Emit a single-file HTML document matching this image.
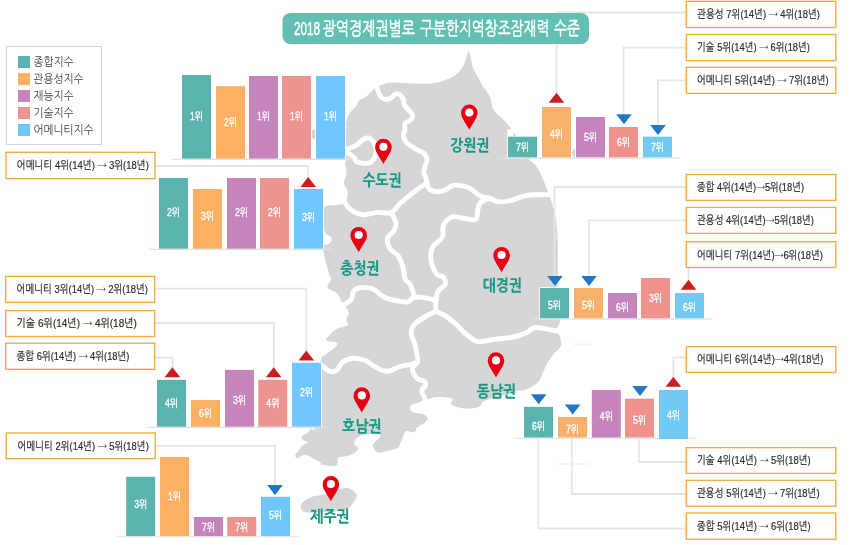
<!DOCTYPE html>
<html lang="ko"><head><meta charset="utf-8"><title>2018 광역경제권별로 구분한 지역창조잠재력 수준</title>
<style>
html,body{margin:0;padding:0;background:#fff;}
svg{display:block;font-family:"Liberation Sans", "NanumGothic", "Noto Sans CJK KR", sans-serif;}
.ar{font-family:"NanumGothic","Noto Sans CJK KR",sans-serif;}
</style></head><body>
<svg width="850" height="545" viewBox="0 0 850 545">
<rect width="850" height="545" fill="#fff"/>
<path d="M345.0,130.0 C348.2,129.0 345.4,125.8 346.0,123.0 C346.6,120.2 347.0,118.5 348.2,116.0 C349.4,113.5 350.2,112.4 351.8,110.5 C353.4,108.6 354.6,108.4 356.0,106.5 C357.4,104.6 356.9,102.9 358.8,101.0 C360.7,99.1 363.1,98.7 365.5,97.0 C367.9,95.3 368.6,94.2 370.6,92.4 C372.6,90.6 373.0,89.6 375.5,88.0 C378.0,86.4 379.9,85.6 383.0,84.5 C386.1,83.4 385.2,82.7 391.0,82.5 C396.8,82.3 404.0,83.3 412.0,83.5 C420.0,83.7 424.9,84.0 431.0,83.5 C437.1,83.0 437.7,82.6 442.5,81.0 C447.3,79.4 450.9,78.3 455.0,75.3 C459.1,72.3 460.8,69.9 463.2,66.0 C465.6,62.1 465.7,58.9 466.8,56.0 C467.9,53.1 467.9,51.1 468.7,51.5 C469.5,51.9 470.1,55.1 470.8,58.0 C471.5,60.9 471.5,63.0 472.4,66.0 C473.3,69.0 474.1,70.7 475.3,73.0 C476.5,75.3 476.8,75.0 478.2,77.6 C479.6,80.2 480.9,83.6 482.4,86.0 C483.9,88.4 483.9,86.9 485.5,89.5 C487.1,92.1 488.9,94.6 490.6,98.8 C492.3,103.0 491.4,106.4 494.0,110.6 C496.6,114.8 500.2,116.5 503.5,120.0 C506.8,123.5 507.3,123.8 510.6,128.2 C513.9,132.6 516.7,136.2 520.0,142.0 C523.3,147.8 523.7,152.1 527.0,157.0 C530.3,161.9 533.2,161.8 536.5,166.5 C539.8,171.2 541.2,175.4 543.5,180.6 C545.8,185.8 546.4,187.7 548.2,192.4 C550.0,197.1 550.7,198.5 552.3,204.0 C553.9,209.5 554.9,212.0 556.0,220.0 C557.1,228.0 557.4,235.4 557.8,244.0 C558.2,252.6 557.8,253.8 557.8,263.0 C557.8,272.2 557.8,281.6 557.8,290.0 C557.8,298.4 557.6,299.0 558.0,305.0 C558.4,311.0 560.2,315.2 560.0,320.0 C559.8,324.8 557.4,326.5 557.0,329.0 C556.6,331.5 557.2,330.2 558.0,332.5 C558.8,334.8 560.6,337.6 561.0,340.6 C561.4,343.6 561.6,344.8 560.0,347.6 C558.4,350.4 555.6,351.4 553.0,354.7 C550.4,358.0 549.1,360.2 547.0,364.0 C544.9,367.8 544.0,370.1 542.4,373.5 C540.8,376.9 541.1,378.4 539.0,381.0 C536.9,383.6 534.9,384.7 532.0,386.5 C529.1,388.3 527.5,389.1 524.5,390.0 C521.5,390.9 520.9,390.0 517.0,391.0 C513.1,392.0 510.4,393.4 505.0,395.0 C499.6,396.6 494.4,397.6 490.0,399.0 C485.6,400.4 485.2,400.5 483.0,402.0 C480.8,403.5 482.0,405.4 479.0,406.7 C476.0,408.0 472.3,408.6 467.8,408.6 C463.3,408.6 459.9,407.6 456.5,406.7 C453.1,405.8 451.6,405.5 450.8,404.0 C450.0,402.5 453.8,400.5 452.7,399.2 C451.6,397.9 448.9,397.7 445.2,397.3 C441.5,396.9 437.4,396.9 434.0,397.3 C430.6,397.7 430.1,399.0 428.2,399.2 C426.3,399.4 426.0,397.6 424.5,398.2 C423.0,398.8 423.1,400.7 420.6,402.0 C418.1,403.3 413.9,403.3 411.8,404.7 C409.7,406.1 409.7,407.4 410.0,409.0 C410.3,410.6 410.7,411.5 413.5,412.6 C416.3,413.7 421.2,413.2 424.0,414.4 C426.8,415.6 427.6,417.1 427.6,418.8 C427.6,420.5 426.1,421.2 424.0,423.0 C421.9,424.8 418.6,426.0 417.0,427.6 C415.4,429.2 417.0,430.1 416.0,431.0 C415.0,431.9 413.7,432.3 411.8,432.3 C409.9,432.3 408.3,430.2 406.5,431.0 C404.7,431.8 404.2,434.0 403.0,436.5 C401.8,439.0 401.4,441.2 400.3,443.5 C399.2,445.8 399.9,446.6 397.6,448.0 C395.3,449.4 392.7,449.7 388.8,450.6 C384.9,451.5 381.4,453.3 378.2,452.4 C375.0,451.5 373.7,448.0 373.0,446.0 C372.3,444.0 373.2,444.7 374.7,442.6 C376.2,440.5 380.8,437.2 380.5,435.5 C380.2,433.8 375.9,434.2 373.0,434.0 C370.1,433.8 368.6,434.0 365.9,434.5 C363.2,435.0 361.8,435.4 359.7,436.5 C357.6,437.6 356.4,438.4 355.3,440.0 C354.2,441.6 353.9,442.8 354.4,444.4 C354.9,446.0 357.6,446.6 358.0,448.0 C358.4,449.4 357.8,450.1 356.2,451.5 C354.6,452.9 352.6,453.9 350.0,455.0 C347.4,456.1 345.1,456.4 343.0,456.8 C340.9,457.2 340.6,456.5 339.5,457.0 C338.4,457.5 338.3,457.7 337.6,459.4 C336.9,461.1 339.1,464.5 335.9,465.6 C332.7,466.7 324.8,465.2 321.8,464.7 C318.8,464.2 322.1,463.9 320.9,463.0 C319.7,462.1 319.0,461.6 316.0,460.0 C313.0,458.4 309.0,455.6 305.9,455.0 C302.8,454.4 302.4,456.1 300.6,456.8 C298.8,457.5 298.1,458.9 297.0,458.5 C295.9,458.1 295.1,456.4 295.3,455.0 C295.5,453.6 296.7,453.3 298.0,451.5 C299.3,449.7 300.1,447.8 302.0,446.0 C303.9,444.2 307.4,443.8 307.6,442.6 C307.8,441.4 304.4,441.2 303.2,440.0 C302.0,438.8 300.6,437.9 301.5,436.5 C302.4,435.1 305.7,434.6 307.6,433.0 C309.5,431.4 309.7,429.5 311.2,428.5 C312.7,427.5 313.6,433.7 315.0,428.0 C316.4,422.3 316.9,413.2 318.0,400.0 C319.1,386.8 319.1,371.1 320.6,362.0 C322.1,352.9 322.7,357.3 325.3,354.7 C327.9,352.1 331.2,351.1 333.5,348.8 C335.8,346.5 338.4,344.6 337.0,343.0 C335.6,341.4 327.9,342.3 326.5,340.6 C325.1,338.9 327.9,337.1 330.0,334.7 C332.1,332.3 333.5,330.7 337.0,328.8 C340.5,326.9 345.7,327.2 347.6,325.3 C349.5,323.4 346.3,322.0 346.5,319.4 C346.7,316.8 349.0,315.0 348.8,312.4 C348.6,309.8 346.7,308.6 345.3,306.5 C343.9,304.4 343.5,304.4 341.8,301.8 C340.1,299.2 339.8,296.3 337.0,293.5 C334.2,290.7 328.8,290.4 327.6,287.6 C326.4,284.8 330.8,282.4 331.0,279.4 C331.2,276.4 329.9,276.2 328.8,272.4 C327.7,268.6 326.5,265.3 325.3,260.6 C324.1,255.9 323.4,252.0 323.0,249.0 C322.6,246.0 322.1,246.7 323.5,245.5 C324.9,244.3 328.5,244.7 330.0,243.0 C331.5,241.3 332.0,239.1 331.0,237.0 C330.0,234.9 326.8,235.9 325.0,232.5 C323.2,229.1 322.4,224.7 322.0,220.0 C321.6,215.3 321.6,211.7 323.0,208.8 C324.4,205.9 326.0,206.0 328.8,205.3 C331.6,204.6 333.7,205.8 337.0,205.3 C340.3,204.8 343.4,203.9 345.3,203.0 C347.2,202.1 346.0,203.0 346.5,200.6 C347.0,198.2 348.1,194.5 347.6,191.0 C347.1,187.5 344.2,186.5 344.0,183.0 C343.8,179.5 346.2,177.3 346.5,173.5 C346.8,169.7 345.6,167.7 345.3,164.0 C345.0,160.3 348.1,158.8 345.0,155.0 C341.9,151.2 336.8,148.6 330.0,145.0 C323.2,141.4 314.4,140.0 311.0,137.0 C307.6,134.0 309.2,131.8 313.0,130.0 C316.8,128.2 323.6,128.0 330.0,128.0 C336.4,128.0 341.8,131.0 345.0,130.0Z" fill="#d6d6d8"/>
<path d="M300.6,506.5 C300.9,505.0 300.8,503.9 303.0,502.0 C305.2,500.1 307.4,498.5 311.4,497.0 C315.4,495.5 318.1,495.9 323.0,494.6 C327.9,493.3 331.4,491.8 336.0,490.5 C340.6,489.2 342.7,488.0 346.0,488.0 C349.3,488.0 350.4,488.8 352.6,490.5 C354.8,492.2 356.7,493.8 356.8,496.3 C356.9,498.8 354.6,500.7 353.0,503.0 C351.4,505.3 351.6,506.4 349.0,508.0 C346.4,509.6 345.8,510.1 340.0,511.0 C334.2,511.9 327.0,512.3 320.0,512.5 C313.0,512.7 308.7,512.6 305.0,512.0 C301.3,511.4 302.4,510.6 301.5,509.5 C300.6,508.4 300.3,508.0 300.6,506.5Z" fill="#d6d6d8"/>
<ellipse cx="577" cy="153" rx="5" ry="4.5" fill="#d6d6d8"/>
<path d="M376.2,86.0 C376.7,87.3 377.7,90.1 378.7,92.4 C379.7,94.7 379.7,95.9 381.2,97.3 C382.7,98.7 384.0,99.5 386.2,99.5 C388.4,99.5 390.2,98.4 392.0,97.3 C393.8,96.2 393.6,94.5 395.2,94.0 C396.8,93.5 398.5,93.7 400.2,94.9 C401.9,96.1 402.7,97.8 403.5,99.8 C404.3,101.8 403.3,102.8 404.3,104.8 C405.3,106.8 406.7,107.6 408.4,109.7 C410.1,111.8 412.3,113.4 412.6,115.5 C412.9,117.6 411.5,118.8 410.0,120.4 C408.5,122.0 406.0,121.9 405.0,123.7 C404.0,125.5 405.3,127.0 405.0,129.5 C404.7,132.0 403.3,133.5 403.5,136.0 C403.7,138.5 404.5,139.9 406.0,141.9 C407.5,143.9 408.7,144.4 411.0,146.0 C413.3,147.6 414.9,148.5 417.5,150.0 C420.1,151.5 422.1,151.6 424.0,153.4 C425.9,155.2 426.8,156.6 427.0,159.2 C427.2,161.8 425.6,163.9 425.0,166.5 C424.4,169.1 423.6,169.7 423.8,172.0 C424.0,174.3 425.3,176.0 425.9,178.2 C426.5,180.4 426.8,182.0 427.0,183.0" fill="none" stroke="#fff" stroke-width="4.9" stroke-linecap="round" stroke-linejoin="round"/>
<path d="M427.0,183.0 C424.9,184.4 421.8,186.0 416.5,190.0 C411.2,194.0 405.7,198.5 400.6,203.0 C395.5,207.5 395.9,210.5 391.2,212.4 C386.5,214.3 382.6,211.9 377.0,212.4 C371.4,212.9 367.9,215.0 363.0,214.7 C358.1,214.4 356.1,213.4 352.4,211.0 C348.7,208.6 346.1,204.2 344.5,202.5" fill="none" stroke="#fff" stroke-width="4.9" stroke-linecap="round" stroke-linejoin="round"/>
<path d="M427.0,183.0 C427.7,184.4 427.5,188.4 430.6,190.0 C433.7,191.6 437.7,192.1 442.4,191.2 C447.1,190.3 448.8,186.0 454.0,185.3 C459.2,184.6 463.0,185.5 468.2,187.6 C473.4,189.7 475.8,193.8 480.0,195.9 C484.2,198.0 485.6,197.0 489.4,198.2 C493.2,199.4 494.6,201.3 498.8,201.8 C503.0,202.3 505.4,201.8 510.6,200.6 C515.8,199.4 519.1,197.1 524.7,195.9 C530.3,194.7 533.3,194.9 538.8,194.7 C544.3,194.5 549.4,194.7 552.0,194.7" fill="none" stroke="#fff" stroke-width="4.9" stroke-linecap="round" stroke-linejoin="round"/>
<path d="M489.4,198.2 C487.5,199.2 482.4,200.4 480.0,203.0 C477.6,205.6 478.5,207.7 477.6,211.0 C476.7,214.3 478.1,218.0 475.3,219.4 C472.5,220.8 468.2,218.7 463.5,218.2 C458.8,217.7 455.8,215.6 451.8,217.0 C447.8,218.4 445.4,221.3 443.5,225.3 C441.6,229.3 444.5,232.8 442.4,237.0 C440.3,241.2 435.4,242.7 433.0,246.5 C430.6,250.3 430.6,251.7 430.6,255.9 C430.6,260.1 431.6,263.8 433.0,267.6 C434.4,271.4 435.6,273.1 437.6,275.0 C439.6,276.9 441.5,275.2 443.0,277.0 C444.5,278.8 446.3,281.2 445.3,284.0 C444.3,286.8 440.1,287.9 438.2,291.2 C436.3,294.5 436.4,296.6 435.9,300.6 C435.4,304.6 435.9,309.1 435.9,311.2" fill="none" stroke="#fff" stroke-width="4.9" stroke-linecap="round" stroke-linejoin="round"/>
<path d="M391.2,212.4 C392.1,214.5 395.4,219.2 395.9,223.0 C396.4,226.8 395.2,228.2 393.5,231.2 C391.8,234.2 388.3,234.7 387.6,238.2 C386.9,241.7 387.9,245.3 390.0,248.8 C392.1,252.3 395.6,252.1 398.2,255.9 C400.8,259.7 401.6,262.9 403.0,267.6 C404.4,272.3 403.9,276.1 405.3,279.4 C406.7,282.7 408.4,281.2 410.0,284.0 C411.6,286.8 412.3,290.8 413.5,293.5 C414.7,296.2 415.5,296.7 416.0,297.5" fill="none" stroke="#fff" stroke-width="4.9" stroke-linecap="round" stroke-linejoin="round"/>
<path d="M342.0,306.0 C343.8,304.7 348.9,302.4 351.2,299.4 C353.5,296.4 351.6,293.6 353.5,291.2 C355.4,288.8 356.8,288.1 360.6,287.6 C364.4,287.1 367.7,286.9 372.4,288.8 C377.1,290.7 379.3,294.6 384.0,297.0 C388.7,299.4 391.2,299.6 395.9,300.6 C400.6,301.6 403.8,302.5 407.6,301.8 C411.4,301.1 410.9,297.7 414.7,297.0 C418.5,296.3 422.3,297.5 426.5,298.2 C430.7,298.9 434.0,300.1 435.9,300.6" fill="none" stroke="#fff" stroke-width="4.9" stroke-linecap="round" stroke-linejoin="round"/>
<path d="M435.9,311.2 C437.8,312.1 441.5,313.5 445.3,315.9 C449.1,318.3 451.0,319.7 454.7,323.0 C458.4,326.3 460.3,329.1 464.0,332.4 C467.7,335.7 469.8,337.5 473.0,339.4 C476.2,341.3 475.8,341.8 480.0,341.8 C484.2,341.8 487.4,340.4 494.0,339.4 C500.6,338.4 506.4,338.4 513.0,337.0 C519.6,335.6 522.8,334.3 527.0,332.4 C531.2,330.5 530.2,328.3 534.0,327.6 C537.8,326.9 540.9,328.0 545.9,328.8 C550.9,329.6 556.4,331.0 559.0,331.5" fill="none" stroke="#fff" stroke-width="4.9" stroke-linecap="round" stroke-linejoin="round"/>
<path d="M435.9,311.2 C434.0,312.1 430.7,313.3 426.5,315.9 C422.3,318.5 417.8,320.5 414.7,324.0 C411.6,327.5 411.2,329.7 411.2,333.5 C411.2,337.3 413.4,339.2 414.5,343.0 C415.6,346.8 415.9,348.6 416.5,352.4 C417.1,356.2 418.3,358.5 417.5,361.8 C416.7,365.1 412.5,365.5 412.4,368.8 C412.3,372.1 414.6,375.7 417.0,378.2 C419.4,380.7 422.8,379.7 424.5,381.3 C426.2,382.9 426.0,384.1 425.4,386.0 C424.8,387.9 421.9,388.4 421.7,390.7 C421.5,393.0 423.9,396.1 424.5,397.5" fill="none" stroke="#fff" stroke-width="4.9" stroke-linecap="round" stroke-linejoin="round"/>
<path d="M417.5,361.8 C416.5,362.2 415.8,363.1 412.4,364.0 C409.0,364.9 405.8,365.1 400.6,366.5 C395.4,367.9 391.7,371.2 386.5,371.2 C381.3,371.2 378.9,368.6 374.7,366.5 C370.5,364.4 369.5,362.3 365.3,360.6 C361.1,358.9 358.0,358.0 353.5,358.2 C349.0,358.4 346.3,359.4 343.0,361.8 C339.7,364.2 339.6,368.1 337.0,370.0 C334.4,371.9 333.3,372.3 330.0,371.2 C326.7,370.1 322.4,365.8 320.5,364.5" fill="none" stroke="#fff" stroke-width="4.9" stroke-linecap="round" stroke-linejoin="round"/>
<path d="M345.5,151.0 C345.3,149.8 346.8,149.7 349.0,148.5 C351.2,147.3 353.9,146.9 356.5,145.2 C359.1,143.5 359.9,141.7 362.2,140.2 C364.5,138.7 366.0,137.8 368.0,137.8 C370.0,137.8 370.7,138.9 372.0,140.2 C373.3,141.5 373.7,142.2 374.6,144.4 C375.5,146.6 376.3,148.4 376.3,151.0 C376.3,153.6 375.8,155.3 374.6,157.6 C373.4,159.9 372.8,161.4 370.5,162.5 C368.2,163.6 365.8,163.5 363.0,163.3 C360.2,163.1 358.3,162.8 356.5,161.7 C354.7,160.6 355.3,159.1 354.0,157.6 C352.7,156.1 351.6,155.6 349.9,154.3 C348.2,153.0 345.7,152.2 345.5,151.0Z" fill="none" stroke="#fff" stroke-width="4.9" stroke-linejoin="round"/>
<polyline points="686.0,12.5 556.5,12.5 556.5,93.0" fill="none" stroke="#e5e5e5" stroke-width="1.8"/>
<polyline points="686.0,47.7 623.5,47.7 623.5,115.0" fill="none" stroke="#e5e5e5" stroke-width="1.8"/>
<polyline points="686.0,80.3 658.0,80.3 658.0,126.0" fill="none" stroke="#e5e5e5" stroke-width="1.8"/>
<polyline points="156.0,166.0 308.2,166.0 308.2,178.0" fill="none" stroke="#e5e5e5" stroke-width="1.8"/>
<polyline points="686.0,187.0 554.5,187.0 554.5,277.0" fill="none" stroke="#e5e5e5" stroke-width="1.8"/>
<polyline points="686.0,220.3 589.0,220.3 589.0,277.0" fill="none" stroke="#e5e5e5" stroke-width="1.8"/>
<polyline points="688.5,267.0 688.5,281.0" fill="none" stroke="#e5e5e5" stroke-width="1.8"/>
<polyline points="155.0,288.7 306.3,288.7 306.3,351.0" fill="none" stroke="#e5e5e5" stroke-width="1.8"/>
<polyline points="155.0,323.0 273.8,323.0 273.8,368.0" fill="none" stroke="#e5e5e5" stroke-width="1.8"/>
<polyline points="155.0,357.6 172.4,357.6 172.4,368.0" fill="none" stroke="#e5e5e5" stroke-width="1.8"/>
<polyline points="156.0,445.8 275.0,445.8 275.0,486.0" fill="none" stroke="#e5e5e5" stroke-width="1.8"/>
<polyline points="686.0,357.3 673.3,357.3 673.3,378.0" fill="none" stroke="#e5e5e5" stroke-width="1.8"/>
<polyline points="638.8,438.0 638.8,462.0 686.0,462.0" fill="none" stroke="#e5e5e5" stroke-width="1.8"/>
<polyline points="571.8,438.0 571.8,494.0 686.0,494.0" fill="none" stroke="#e5e5e5" stroke-width="1.8"/>
<polyline points="538.3,438.0 538.3,528.5 686.0,528.5" fill="none" stroke="#e5e5e5" stroke-width="1.8"/>
<line x1="573.7" y1="344.3" x2="592" y2="344.3" stroke="#efefef" stroke-width="1.2"/>
<line x1="557.8" y1="464" x2="588" y2="464" stroke="#efefef" stroke-width="1.2"/>
<rect x="282.5" y="13" width="306.5" height="31" rx="8" ry="8" fill="#62c0b3"/>
<text y="35" font-size="18.5" fill="#fff" stroke="#fff" stroke-width="0.5"><tspan x="294" textLength="26" lengthAdjust="spacingAndGlyphs">2018</tspan> <tspan x="322.6" textLength="92.4" lengthAdjust="spacingAndGlyphs">광역경제권별로</tspan> <tspan x="420" textLength="129.4" lengthAdjust="spacingAndGlyphs">구분한지역창조잠재력</tspan> <tspan x="554" textLength="26.2" lengthAdjust="spacingAndGlyphs">수준</tspan></text>
<rect x="6.5" y="46.5" width="95" height="98" fill="#fff" stroke="#d4d4d4" stroke-width="1"/>
<rect x="18" y="56.0" width="12" height="12" fill="#5ab4ad"/>
<text x="33.5" y="66.3" font-size="12" fill="#444" textLength="40.0" lengthAdjust="spacingAndGlyphs">종합지수</text>
<rect x="18" y="73.0" width="12" height="12" fill="#fbb063"/>
<text x="33.5" y="83.3" font-size="12" fill="#444" textLength="50.0" lengthAdjust="spacingAndGlyphs">관용성지수</text>
<rect x="18" y="90.0" width="12" height="12" fill="#c584bc"/>
<text x="33.5" y="100.3" font-size="12" fill="#444" textLength="40.0" lengthAdjust="spacingAndGlyphs">재능지수</text>
<rect x="18" y="107.0" width="12" height="12" fill="#ec9490"/>
<text x="33.5" y="117.3" font-size="12" fill="#444" textLength="40.0" lengthAdjust="spacingAndGlyphs">기술지수</text>
<rect x="18" y="124.0" width="12" height="12" fill="#6fc7fd"/>
<text x="33.5" y="134.3" font-size="12" fill="#444" textLength="60.0" lengthAdjust="spacingAndGlyphs">어메니티지수</text>
<rect x="182.0" y="75.0" width="29.0" height="83.8" fill="#5ab4ad" stroke="#fff" stroke-width="1.6" paint-order="stroke"/>
<rect x="216.0" y="86.2" width="29.0" height="72.6" fill="#fbb063" stroke="#fff" stroke-width="1.6" paint-order="stroke"/>
<rect x="249.0" y="76.0" width="29.0" height="82.8" fill="#c584bc" stroke="#fff" stroke-width="1.6" paint-order="stroke"/>
<rect x="282.0" y="76.0" width="29.0" height="82.8" fill="#ec9490" stroke="#fff" stroke-width="1.6" paint-order="stroke"/>
<rect x="316.0" y="76.0" width="29.0" height="82.8" fill="#6fc7fd" stroke="#fff" stroke-width="1.6" paint-order="stroke"/>
<line x1="172.0" y1="159.4" x2="353.0" y2="159.4" stroke="#e0e0e0" stroke-width="1.1"/>
<text x="196.5" y="119.7" font-size="11" fill="#fff" stroke="#fff" stroke-width="0.35" text-anchor="middle" textLength="13" lengthAdjust="spacingAndGlyphs">1위</text>
<text x="230.5" y="125.6" font-size="11" fill="#fff" stroke="#fff" stroke-width="0.35" text-anchor="middle" textLength="13" lengthAdjust="spacingAndGlyphs">2위</text>
<text x="263.5" y="119.9" font-size="11" fill="#fff" stroke="#fff" stroke-width="0.35" text-anchor="middle" textLength="13" lengthAdjust="spacingAndGlyphs">1위</text>
<text x="296.5" y="119.9" font-size="11" fill="#fff" stroke="#fff" stroke-width="0.35" text-anchor="middle" textLength="13" lengthAdjust="spacingAndGlyphs">1위</text>
<text x="330.5" y="119.9" font-size="11" fill="#fff" stroke="#fff" stroke-width="0.35" text-anchor="middle" textLength="13" lengthAdjust="spacingAndGlyphs">1위</text>
<rect x="159.0" y="178.0" width="29.0" height="70.8" fill="#5ab4ad" stroke="#fff" stroke-width="1.6" paint-order="stroke"/>
<rect x="193.0" y="189.0" width="29.0" height="59.8" fill="#fbb063" stroke="#fff" stroke-width="1.6" paint-order="stroke"/>
<rect x="227.0" y="178.0" width="29.0" height="70.8" fill="#c584bc" stroke="#fff" stroke-width="1.6" paint-order="stroke"/>
<rect x="260.0" y="178.0" width="29.0" height="70.8" fill="#ec9490" stroke="#fff" stroke-width="1.6" paint-order="stroke"/>
<rect x="294.0" y="189.0" width="29.0" height="59.8" fill="#6fc7fd" stroke="#fff" stroke-width="1.6" paint-order="stroke"/>
<line x1="149.0" y1="249.4" x2="332.0" y2="249.4" stroke="#e0e0e0" stroke-width="1.1"/>
<text x="173.5" y="215.7" font-size="11" fill="#fff" stroke="#fff" stroke-width="0.35" text-anchor="middle" textLength="13" lengthAdjust="spacingAndGlyphs">2위</text>
<text x="207.5" y="219.8" font-size="11" fill="#fff" stroke="#fff" stroke-width="0.35" text-anchor="middle" textLength="13" lengthAdjust="spacingAndGlyphs">3위</text>
<text x="241.5" y="215.7" font-size="11" fill="#fff" stroke="#fff" stroke-width="0.35" text-anchor="middle" textLength="13" lengthAdjust="spacingAndGlyphs">2위</text>
<text x="274.5" y="215.7" font-size="11" fill="#fff" stroke="#fff" stroke-width="0.35" text-anchor="middle" textLength="13" lengthAdjust="spacingAndGlyphs">2위</text>
<text x="308.5" y="220.6" font-size="11" fill="#fff" stroke="#fff" stroke-width="0.35" text-anchor="middle" textLength="13" lengthAdjust="spacingAndGlyphs">3위</text>
<polygon points="308.2,177.0 300.4,187.0 316.0,187.0" fill="#c5201f"/>
<rect x="507.3" y="129.3" width="6" height="9" fill="#fff"/>
<rect x="508.0" y="136.7" width="29.0" height="20.8" fill="#5ab4ad" stroke="#fff" stroke-width="1.6" paint-order="stroke"/>
<rect x="542.0" y="107.0" width="29.0" height="50.5" fill="#f7b16a" stroke="#fff" stroke-width="1.6" paint-order="stroke"/>
<rect x="576.0" y="117.0" width="29.0" height="40.5" fill="#c584bc" stroke="#fff" stroke-width="1.6" paint-order="stroke"/>
<rect x="609.0" y="127.0" width="29.0" height="30.5" fill="#f1918e" stroke="#fff" stroke-width="1.6" paint-order="stroke"/>
<rect x="643.0" y="136.7" width="29.0" height="20.8" fill="#72c9f1" stroke="#fff" stroke-width="1.6" paint-order="stroke"/>
<line x1="499.0" y1="158.1" x2="680.0" y2="158.1" stroke="#e0e0e0" stroke-width="1.1"/>
<text x="522.5" y="151.2" font-size="11" fill="#fff" stroke="#fff" stroke-width="0.35" text-anchor="middle" textLength="13" lengthAdjust="spacingAndGlyphs">7위</text>
<text x="556.5" y="137.8" font-size="11" fill="#fff" stroke="#fff" stroke-width="0.35" text-anchor="middle" textLength="13" lengthAdjust="spacingAndGlyphs">4위</text>
<text x="590.5" y="141.2" font-size="11" fill="#fff" stroke="#fff" stroke-width="0.35" text-anchor="middle" textLength="13" lengthAdjust="spacingAndGlyphs">5위</text>
<text x="623.5" y="146.2" font-size="11" fill="#fff" stroke="#fff" stroke-width="0.35" text-anchor="middle" textLength="13" lengthAdjust="spacingAndGlyphs">6위</text>
<text x="657.5" y="151.2" font-size="11" fill="#fff" stroke="#fff" stroke-width="0.35" text-anchor="middle" textLength="13" lengthAdjust="spacingAndGlyphs">7위</text>
<polygon points="556.5,92.7 548.7,102.7 564.3,102.7" fill="#c5201f"/>
<polygon points="624.0,124.2 616.2,114.2 631.8,114.2" fill="#2078c4"/>
<polygon points="658.0,135.0 650.2,125.0 665.8,125.0" fill="#2078c4"/>
<rect x="540.0" y="288.0" width="29.0" height="30.5" fill="#5ab4ad" stroke="#fff" stroke-width="1.6" paint-order="stroke"/>
<rect x="574.0" y="288.0" width="29.0" height="30.5" fill="#f7b16a" stroke="#fff" stroke-width="1.6" paint-order="stroke"/>
<rect x="608.0" y="293.0" width="29.0" height="25.5" fill="#c584bc" stroke="#fff" stroke-width="1.6" paint-order="stroke"/>
<rect x="641.0" y="278.0" width="29.0" height="40.5" fill="#f1918e" stroke="#fff" stroke-width="1.6" paint-order="stroke"/>
<rect x="675.0" y="293.0" width="29.0" height="25.5" fill="#72c9f1" stroke="#fff" stroke-width="1.6" paint-order="stroke"/>
<line x1="531.5" y1="319.1" x2="712.5" y2="319.1" stroke="#e0e0e0" stroke-width="1.1"/>
<text x="554.5" y="308.6" font-size="11" fill="#fff" stroke="#fff" stroke-width="0.35" text-anchor="middle" textLength="13" lengthAdjust="spacingAndGlyphs">5위</text>
<text x="588.5" y="308.6" font-size="11" fill="#fff" stroke="#fff" stroke-width="0.35" text-anchor="middle" textLength="13" lengthAdjust="spacingAndGlyphs">5위</text>
<text x="622.5" y="310.5" font-size="11" fill="#fff" stroke="#fff" stroke-width="0.35" text-anchor="middle" textLength="13" lengthAdjust="spacingAndGlyphs">6위</text>
<text x="655.5" y="301.7" font-size="11" fill="#fff" stroke="#fff" stroke-width="0.35" text-anchor="middle" textLength="13" lengthAdjust="spacingAndGlyphs">3위</text>
<text x="689.5" y="310.5" font-size="11" fill="#fff" stroke="#fff" stroke-width="0.35" text-anchor="middle" textLength="13" lengthAdjust="spacingAndGlyphs">6위</text>
<polygon points="555.0,286.0 547.2,276.0 562.8,276.0" fill="#2078c4"/>
<polygon points="589.0,286.0 581.2,276.0 596.8,276.0" fill="#2078c4"/>
<polygon points="688.5,279.8 680.7,289.8 696.3,289.8" fill="#c5201f"/>
<rect x="157.0" y="379.8" width="29.0" height="47.0" fill="#5ab4ad" stroke="#fff" stroke-width="1.6" paint-order="stroke"/>
<rect x="191.0" y="400.0" width="29.0" height="26.8" fill="#fbb063" stroke="#fff" stroke-width="1.6" paint-order="stroke"/>
<rect x="225.0" y="369.9" width="29.0" height="56.9" fill="#c584bc" stroke="#fff" stroke-width="1.6" paint-order="stroke"/>
<rect x="258.3" y="379.8" width="29.0" height="47.0" fill="#ec9490" stroke="#fff" stroke-width="1.6" paint-order="stroke"/>
<rect x="292.0" y="362.8" width="29.0" height="64.0" fill="#6fc7fd" stroke="#fff" stroke-width="1.6" paint-order="stroke"/>
<line x1="148.0" y1="427.4" x2="329.5" y2="427.4" stroke="#e0e0e0" stroke-width="1.1"/>
<text x="171.5" y="406.6" font-size="11" fill="#fff" stroke="#fff" stroke-width="0.35" text-anchor="middle" textLength="13" lengthAdjust="spacingAndGlyphs">4위</text>
<text x="205.5" y="417.4" font-size="11" fill="#fff" stroke="#fff" stroke-width="0.35" text-anchor="middle" textLength="13" lengthAdjust="spacingAndGlyphs">6위</text>
<text x="239.5" y="403.7" font-size="11" fill="#fff" stroke="#fff" stroke-width="0.35" text-anchor="middle" textLength="13" lengthAdjust="spacingAndGlyphs">3위</text>
<text x="272.8" y="406.6" font-size="11" fill="#fff" stroke="#fff" stroke-width="0.35" text-anchor="middle" textLength="13" lengthAdjust="spacingAndGlyphs">4위</text>
<text x="306.5" y="395.8" font-size="11" fill="#fff" stroke="#fff" stroke-width="0.35" text-anchor="middle" textLength="13" lengthAdjust="spacingAndGlyphs">2위</text>
<polygon points="172.4,367.2 164.6,377.2 180.2,377.2" fill="#c5201f"/>
<polygon points="273.7,367.2 265.9,377.2 281.5,377.2" fill="#c5201f"/>
<polygon points="306.3,350.5 298.5,360.5 314.1,360.5" fill="#c5201f"/>
<rect x="126.2" y="476.8" width="29.0" height="59.4" fill="#5ab4ad" stroke="#fff" stroke-width="1.6" paint-order="stroke"/>
<rect x="160.0" y="457.0" width="29.0" height="79.2" fill="#fbb063" stroke="#fff" stroke-width="1.6" paint-order="stroke"/>
<rect x="194.0" y="517.0" width="29.0" height="19.2" fill="#c584bc" stroke="#fff" stroke-width="1.6" paint-order="stroke"/>
<rect x="227.2" y="517.0" width="29.0" height="19.2" fill="#ec9490" stroke="#fff" stroke-width="1.6" paint-order="stroke"/>
<rect x="261.0" y="496.8" width="29.0" height="39.4" fill="#6fc7fd" stroke="#fff" stroke-width="1.6" paint-order="stroke"/>
<line x1="116.7" y1="536.8" x2="299.0" y2="536.8" stroke="#e0e0e0" stroke-width="1.1"/>
<text x="140.7" y="508.3" font-size="11" fill="#fff" stroke="#fff" stroke-width="0.35" text-anchor="middle" textLength="13" lengthAdjust="spacingAndGlyphs">3위</text>
<text x="174.5" y="499.9" font-size="11" fill="#fff" stroke="#fff" stroke-width="0.35" text-anchor="middle" textLength="13" lengthAdjust="spacingAndGlyphs">1위</text>
<text x="208.5" y="530.9" font-size="11" fill="#fff" stroke="#fff" stroke-width="0.35" text-anchor="middle" textLength="13" lengthAdjust="spacingAndGlyphs">7위</text>
<text x="241.7" y="530.9" font-size="11" fill="#fff" stroke="#fff" stroke-width="0.35" text-anchor="middle" textLength="13" lengthAdjust="spacingAndGlyphs">7위</text>
<text x="275.5" y="519.2" font-size="11" fill="#fff" stroke="#fff" stroke-width="0.35" text-anchor="middle" textLength="13" lengthAdjust="spacingAndGlyphs">5위</text>
<polygon points="275.0,495.0 267.2,485.0 282.8,485.0" fill="#2078c4"/>
<rect x="524.0" y="406.8" width="29.0" height="30.8" fill="#5ab4ad" stroke="#fff" stroke-width="1.6" paint-order="stroke"/>
<rect x="558.0" y="417.0" width="29.0" height="20.6" fill="#f7b16a" stroke="#fff" stroke-width="1.6" paint-order="stroke"/>
<rect x="591.8" y="390.0" width="29.0" height="47.6" fill="#c584bc" stroke="#fff" stroke-width="1.6" paint-order="stroke"/>
<rect x="625.0" y="398.7" width="29.0" height="38.9" fill="#f1918e" stroke="#fff" stroke-width="1.6" paint-order="stroke"/>
<rect x="659.0" y="390.0" width="29.0" height="47.6" fill="#72c9f1" stroke="#fff" stroke-width="1.6" paint-order="stroke"/>
<line x1="514.0" y1="438.2" x2="697.0" y2="438.2" stroke="#e0e0e0" stroke-width="1.1"/>
<text x="538.5" y="429.8" font-size="11" fill="#fff" stroke="#fff" stroke-width="0.35" text-anchor="middle" textLength="13" lengthAdjust="spacingAndGlyphs">6위</text>
<text x="572.5" y="432.6" font-size="11" fill="#fff" stroke="#fff" stroke-width="0.35" text-anchor="middle" textLength="13" lengthAdjust="spacingAndGlyphs">7위</text>
<text x="606.3" y="419.6" font-size="11" fill="#fff" stroke="#fff" stroke-width="0.35" text-anchor="middle" textLength="13" lengthAdjust="spacingAndGlyphs">4위</text>
<text x="639.5" y="424.0" font-size="11" fill="#fff" stroke="#fff" stroke-width="0.35" text-anchor="middle" textLength="13" lengthAdjust="spacingAndGlyphs">5위</text>
<text x="673.5" y="418.6" font-size="11" fill="#fff" stroke="#fff" stroke-width="0.35" text-anchor="middle" textLength="13" lengthAdjust="spacingAndGlyphs">4위</text>
<rect x="659" y="436" width="29" height="3" fill="#72c9f1"/>
<polygon points="538.7,404.2 530.9,394.2 546.5,394.2" fill="#2078c4"/>
<polygon points="572.7,414.5 564.9,404.5 580.5,404.5" fill="#2078c4"/>
<polygon points="640.0,396.0 632.2,386.0 647.8,386.0" fill="#2078c4"/>
<polygon points="673.4,376.7 665.6,386.7 681.2,386.7" fill="#c5201f"/>
<rect x="686.3" y="1.3" width="149.5" height="26.2" fill="#fff" stroke="#f6a63a" stroke-width="1.3"/>
<text x="697.0" y="18.3" font-size="11.5" fill="#2a2a2a" stroke="#2a2a2a" stroke-width="0.2" textLength="123.0" lengthAdjust="spacingAndGlyphs">관용성 7위(14년) <tspan class="ar">→</tspan> 4위(18년)</text>
<rect x="686.3" y="34.5" width="149.5" height="26.1" fill="#fff" stroke="#f6a63a" stroke-width="1.3"/>
<text x="697.0" y="51.4" font-size="11.5" fill="#2a2a2a" stroke="#2a2a2a" stroke-width="0.2" textLength="113.0" lengthAdjust="spacingAndGlyphs">기술 5위(14년) <tspan class="ar">→</tspan> 6위(18년)</text>
<rect x="686.3" y="67.3" width="149.5" height="26.1" fill="#fff" stroke="#f6a63a" stroke-width="1.3"/>
<text x="697.0" y="84.2" font-size="11.5" fill="#2a2a2a" stroke="#2a2a2a" stroke-width="0.2" textLength="131.7" lengthAdjust="spacingAndGlyphs">어메니티 5위(14년) <tspan class="ar">→</tspan> 7위(18년)</text>
<rect x="686.3" y="174.5" width="149.5" height="25.9" fill="#fff" stroke="#f6a63a" stroke-width="1.3"/>
<text x="697.0" y="191.3" font-size="11.5" fill="#2a2a2a" stroke="#2a2a2a" stroke-width="0.2" textLength="107.0" lengthAdjust="spacingAndGlyphs">종합 4위(14년)<tspan class="ar">→</tspan>5위(18년)</text>
<rect x="686.3" y="207.4" width="149.5" height="26.0" fill="#fff" stroke="#f6a63a" stroke-width="1.3"/>
<text x="697.0" y="224.3" font-size="11.5" fill="#2a2a2a" stroke="#2a2a2a" stroke-width="0.2" textLength="117.0" lengthAdjust="spacingAndGlyphs">관용성 4위(14년)<tspan class="ar">→</tspan>5위(18년)</text>
<rect x="686.3" y="241.7" width="149.5" height="25.8" fill="#fff" stroke="#f6a63a" stroke-width="1.3"/>
<text x="697.0" y="258.5" font-size="11.5" fill="#2a2a2a" stroke="#2a2a2a" stroke-width="0.2" textLength="126.0" lengthAdjust="spacingAndGlyphs">어메니티 7위(14년)<tspan class="ar">→</tspan>6위(18년)</text>
<rect x="686.3" y="346.6" width="149.5" height="25.8" fill="#fff" stroke="#f6a63a" stroke-width="1.3"/>
<text x="697.0" y="363.4" font-size="11.5" fill="#2a2a2a" stroke="#2a2a2a" stroke-width="0.2" textLength="126.4" lengthAdjust="spacingAndGlyphs">어메니티 6위(14년)<tspan class="ar">→</tspan>4위(18년)</text>
<rect x="686.3" y="447.6" width="149.5" height="25.8" fill="#fff" stroke="#f6a63a" stroke-width="1.3"/>
<text x="697.0" y="464.4" font-size="11.5" fill="#2a2a2a" stroke="#2a2a2a" stroke-width="0.2" textLength="113.7" lengthAdjust="spacingAndGlyphs">기술 4위(14년) <tspan class="ar">→</tspan> 5위(18년)</text>
<rect x="686.3" y="480.3" width="149.5" height="25.9" fill="#fff" stroke="#f6a63a" stroke-width="1.3"/>
<text x="697.0" y="497.1" font-size="11.5" fill="#2a2a2a" stroke="#2a2a2a" stroke-width="0.2" textLength="122.6" lengthAdjust="spacingAndGlyphs">관용성 5위(14년) <tspan class="ar">→</tspan> 7위(18년)</text>
<rect x="686.3" y="513.0" width="149.5" height="26.3" fill="#fff" stroke="#f6a63a" stroke-width="1.3"/>
<text x="697.0" y="530.0" font-size="11.5" fill="#2a2a2a" stroke="#2a2a2a" stroke-width="0.2" textLength="113.7" lengthAdjust="spacingAndGlyphs">종합 5위(14년) <tspan class="ar">→</tspan> 6위(18년)</text>
<rect x="6.0" y="152.3" width="149.0" height="26.4" fill="#fff" stroke="#f6a63a" stroke-width="1.3"/>
<text x="16.8" y="169.4" font-size="11.5" fill="#2a2a2a" stroke="#2a2a2a" stroke-width="0.2" textLength="132.0" lengthAdjust="spacingAndGlyphs">어메니티 4위(14년) <tspan class="ar">→</tspan> 3위(18년)</text>
<rect x="5.7" y="276.4" width="149.0" height="26.0" fill="#fff" stroke="#f6a63a" stroke-width="1.3"/>
<text x="16.5" y="293.3" font-size="11.5" fill="#2a2a2a" stroke="#2a2a2a" stroke-width="0.2" textLength="131.4" lengthAdjust="spacingAndGlyphs">어메니티 3위(14년) <tspan class="ar">→</tspan> 2위(18년)</text>
<rect x="5.7" y="310.6" width="149.0" height="25.9" fill="#fff" stroke="#f6a63a" stroke-width="1.3"/>
<text x="16.5" y="327.4" font-size="11.5" fill="#2a2a2a" stroke="#2a2a2a" stroke-width="0.2" textLength="120.4" lengthAdjust="spacingAndGlyphs">기술 6위(14년) <tspan class="ar">→</tspan> 4위(18년)</text>
<rect x="5.7" y="343.2" width="149.0" height="26.1" fill="#fff" stroke="#f6a63a" stroke-width="1.3"/>
<text x="16.5" y="360.1" font-size="11.5" fill="#2a2a2a" stroke="#2a2a2a" stroke-width="0.2" textLength="113.0" lengthAdjust="spacingAndGlyphs">종합 6위(14년) <tspan class="ar">→</tspan> 4위(18년)</text>
<rect x="6.2" y="433.0" width="149.0" height="25.6" fill="#fff" stroke="#f6a63a" stroke-width="1.3"/>
<text x="17.5" y="449.7" font-size="11.5" fill="#2a2a2a" stroke="#2a2a2a" stroke-width="0.2" textLength="131.3" lengthAdjust="spacingAndGlyphs">어메니티 2위(14년) <tspan class="ar">→</tspan> 5위(18년)</text>
<path d="M469.3,129.8 C466.8,124.8 461.0,118.0 461.0,112.8 A8.3,8.3 0 1 1 477.6,112.8 C477.6,118.0 471.8,124.8 469.3,129.8 Z" fill="#e60012"/>
<circle cx="469.3" cy="112.6" r="4.1" fill="#fff"/>
<text x="470.0" y="151.3" font-size="16" font-weight="800" fill="#179a83" text-anchor="middle" textLength="39.5" lengthAdjust="spacingAndGlyphs">강원권</text>
<path d="M383.4,164.0 C380.9,159.0 375.1,152.2 375.1,147.0 A8.3,8.3 0 1 1 391.7,147.0 C391.7,152.2 385.9,159.0 383.4,164.0 Z" fill="#e60012"/>
<circle cx="383.4" cy="146.8" r="4.1" fill="#fff"/>
<text x="382.2" y="186.0" font-size="16" font-weight="800" fill="#179a83" text-anchor="middle" textLength="39.5" lengthAdjust="spacingAndGlyphs">수도권</text>
<path d="M358.7,252.2 C356.2,247.2 350.4,240.4 350.4,235.2 A8.3,8.3 0 1 1 367.0,235.2 C367.0,240.4 361.2,247.2 358.7,252.2 Z" fill="#e60012"/>
<circle cx="358.7" cy="235.0" r="4.1" fill="#fff"/>
<text x="360.0" y="274.2" font-size="16" font-weight="800" fill="#179a83" text-anchor="middle" textLength="39.5" lengthAdjust="spacingAndGlyphs">충청권</text>
<path d="M501.6,272.2 C499.1,267.2 493.3,260.4 493.3,255.2 A8.3,8.3 0 1 1 509.9,255.2 C509.9,260.4 504.1,267.2 501.6,272.2 Z" fill="#e60012"/>
<circle cx="501.6" cy="255.0" r="4.1" fill="#fff"/>
<text x="502.4" y="291.2" font-size="16" font-weight="800" fill="#179a83" text-anchor="middle" textLength="39.5" lengthAdjust="spacingAndGlyphs">대경권</text>
<path d="M496.0,377.6 C493.5,372.6 487.7,365.8 487.7,360.6 A8.3,8.3 0 1 1 504.3,360.6 C504.3,365.8 498.5,372.6 496.0,377.6 Z" fill="#e60012"/>
<circle cx="496.0" cy="360.4" r="4.1" fill="#fff"/>
<text x="496.5" y="396.6" font-size="16" font-weight="800" fill="#179a83" text-anchor="middle" textLength="39.5" lengthAdjust="spacingAndGlyphs">동남권</text>
<path d="M361.8,412.6 C359.3,407.6 353.5,400.8 353.5,395.6 A8.3,8.3 0 1 1 370.1,395.6 C370.1,400.8 364.3,407.6 361.8,412.6 Z" fill="#e60012"/>
<circle cx="361.8" cy="395.4" r="4.1" fill="#fff"/>
<text x="361.8" y="431.6" font-size="16" font-weight="800" fill="#179a83" text-anchor="middle" textLength="39.5" lengthAdjust="spacingAndGlyphs">호남권</text>
<path d="M330.9,501.3 C328.4,496.3 322.6,489.5 322.6,484.3 A8.3,8.3 0 1 1 339.2,484.3 C339.2,489.5 333.4,496.3 330.9,501.3 Z" fill="#e60012"/>
<circle cx="330.9" cy="484.1" r="4.1" fill="#fff"/>
<text x="330.0" y="522.1" font-size="16" font-weight="800" fill="#179a83" text-anchor="middle" textLength="39.5" lengthAdjust="spacingAndGlyphs">제주권</text>
</svg>
</body></html>
